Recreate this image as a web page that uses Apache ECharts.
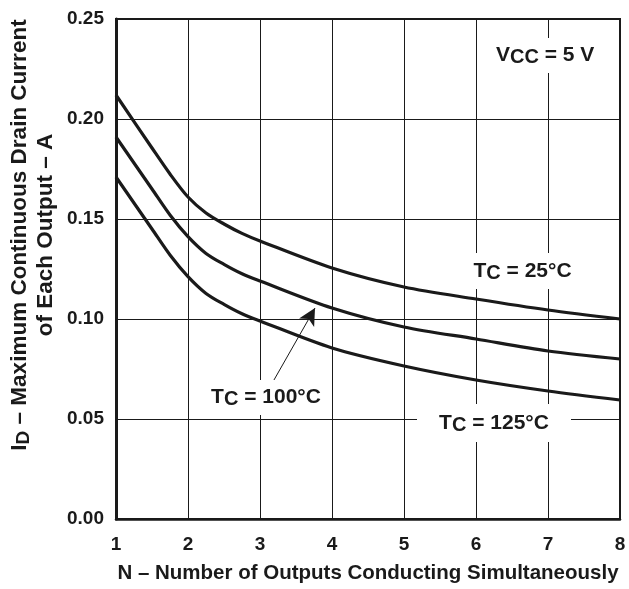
<!DOCTYPE html>
<html><head><meta charset="utf-8">
<script src="https://cdn.jsdelivr.net/npm/echarts@6/dist/echarts.min.js"></script>
<style>html,body{margin:0;padding:0;background:#fff}#c{width:629px;height:589px}</style>
</head><body><div id="c"></div>
<script>
// Data
const nOutputs = [1, 1.5, 1.75, 2, 2.25, 2.5, 2.75, 3, 4, 5, 6, 7, 8];
const id25C  = [0.212, 0.1855, 0.1725, 0.161, 0.1530, 0.1475, 0.1428, 0.139, 0.1255, 0.116, 0.110, 0.1045, 0.100];
const id100C = [0.191, 0.165, 0.152, 0.1412, 0.1328, 0.1273, 0.1226, 0.119, 0.1055, 0.096, 0.090, 0.084, 0.080];
const id125C = [0.171, 0.145, 0.132, 0.1212, 0.1128, 0.1073, 0.1026, 0.099, 0.0855, 0.0765, 0.0695, 0.064, 0.0595];
const xTicks = [1, 2, 3, 4, 5, 6, 7, 8];
const yTicks = [0.00, 0.05, 0.10, 0.15, 0.20, 0.25];
// annotation anchors in data units
const vccAt = [6.96, 0.2318];
const t25At = [6.646, 0.124];
const t100At = [3.083, 0.0608];
const t125At = [6.25, 0.048];
const arrowFrom = [3.194, 0.0695];
const arrowTo = [3.764, 0.1055];

const F = '"Liberation Sans", Arial, sans-serif';
const INK = '#1a1a1a';
const rich = {
  m: {fontFamily: F, fontWeight: 'bold', fontSize: 21, color: INK, lineHeight: 24},
  s: {fontFamily: F, fontWeight: 'bold', fontSize: 20, color: INK, lineHeight: 14, verticalAlign: 'bottom'}
};
function toPairs(ys) { return nOutputs.map((n, i) => [n, ys[i]]); }
function box(coord, w, h, text) {
  return {
    coord: coord, symbol: 'rect', symbolSize: [w, h],
    itemStyle: {color: '#fff'},
    label: {show: true, position: 'inside', formatter: text, rich: rich}
  };
}
const lineBase = {
  type: 'line', smooth: 0.3, showSymbol: false, symbol: 'none',
  lineStyle: {color: INK, width: 3.2}, itemStyle: {color: INK}, silent: true, z: 3
};
const chart = echarts.init(document.getElementById('c'), null, {renderer: 'canvas'});
chart.setOption({
  animation: false,
  backgroundColor: '#fff',
  grid: {left: 116, right: 9, top: 19, bottom: 70, show: true, borderColor: INK, borderWidth: 2,
    containLabel: false, outerBoundsMode: 'none'},
  xAxis: {
    type: 'value', min: 1, max: 8, interval: 1,
    name: 'N – Number of Outputs Conducting Simultaneously',
    nameLocation: 'middle', nameGap: 44,
    nameTextStyle: {fontFamily: F, fontWeight: 'bold', fontSize: 20.5, color: INK},
    axisLine: {show: true, lineStyle: {color: INK, width: 2.5}},
    axisTick: {show: false},
    axisLabel: {fontFamily: F, fontWeight: 'bold', fontSize: 19, color: INK, margin: 16,
      formatter: v => xTicks.includes(v) ? String(v) : ''},
    splitLine: {show: true, lineStyle: {color: INK, width: 1}}
  },
  yAxis: {
    type: 'value', min: 0, max: 0.25, interval: 0.05,
    axisLine: {show: true, lineStyle: {color: INK, width: 3}},
    axisTick: {show: false},
    axisLabel: {fontFamily: F, fontWeight: 'bold', fontSize: 19, color: INK, margin: 12,
      formatter: v => yTicks.find(t => Math.abs(t - v) < 1e-9) !== undefined ? v.toFixed(2) : ''},
    splitLine: {show: true, lineStyle: {color: INK, width: 1}}
  },
  graphic: [{
    type: 'text', x: 33, y: 235, rotation: Math.PI / 2,
    style: {
      text: '{m|I}{s|D}{m| – Maximum Continuous Drain Current}\n{m|of Each Output – A}',
      align: 'center', verticalAlign: 'middle',
      rich: {
        m: {fontFamily: F, fontWeight: 'bold', fontSize: 22.5, fill: INK, lineHeight: 26},
        s: {fontFamily: F, fontWeight: 'bold', fontSize: 19, fill: INK, lineHeight: 14, verticalAlign: 'bottom'}
      }
    }
  }],
  series: [
    Object.assign({}, lineBase, {
      name: '25', data: toPairs(id25C),
      markPoint: {silent: true, z: 4, data: [
        box(vccAt, 114, 35, '{m|V}{s|CC}{m| = 5 V}'),
        box(t25At, 114, 36, '{m|T}{s|C}{m| = 25°C}')
      ]}
    }),
    Object.assign({}, lineBase, {
      name: '100', data: toPairs(id100C),
      markPoint: {silent: true, z: 4, data: [
        box(t100At, 126, 35, '{m|T}{s|C}{m| = 100°C}')
      ]},
      markLine: {
        silent: true, symbol: ['none', 'arrow'], symbolSize: [13, 17],
        label: {show: false},
        lineStyle: {color: INK, width: 1, type: 'solid'},
        data: [[{coord: arrowFrom}, {coord: arrowTo}]]
      }
    }),
    Object.assign({}, lineBase, {
      name: '125', data: toPairs(id125C),
      markPoint: {silent: true, z: 4, data: [
        box(t125At, 154, 38, '{m|T}{s|C}{m| = 125°C}')
      ]}
    })
  ]
});
</script></body></html>
